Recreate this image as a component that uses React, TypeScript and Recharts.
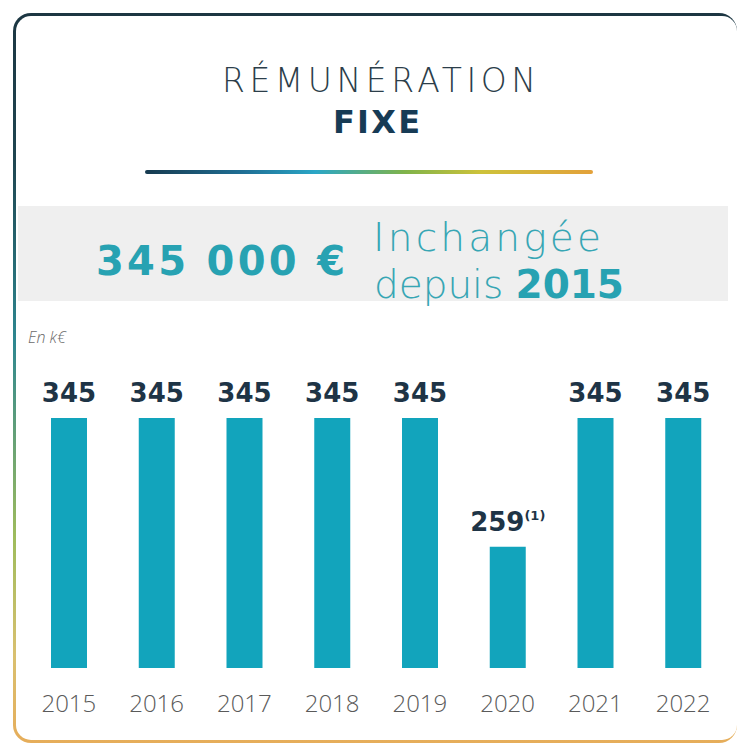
import { BarChart, Bar, XAxis, YAxis, LabelList } from 'recharts'

const years = ['2015', '2016', '2017', '2018', '2019', '2020', '2021', '2022']
const fixedPay = [345, 345, 345, 345, 345, 259, 345, 345]
const notes = ['', '', '', '', '', '(1)', '', '']

const data = years.map((year, i) => ({ year, value: fixedPay[i], note: notes[i] }))

const TEAL = '#12a4bc'
const NAVY = '#1e3446'
const FONT = '"Open Sans", Lato, sans-serif'
const WIDE = '"DejaVu Sans", "Open Sans", sans-serif'

const YearTick = ({ x, y, payload }: any) => (
  <text x={x} y={y + 44} textAnchor="middle" fontFamily={FONT} fontWeight={300} fontSize={24} fill="#5a5a5a">
    {payload.value}
  </text>
)

const ValueLabel = (props: any) => {
  const { x, y, width, value, index } = props
  const note = notes[index]
  return (
    <text
      x={x + width / 2}
      y={y - 16}
      textAnchor="middle"
      fontFamily={WIDE}
      fontWeight={700}
      fontSize={26}
      fill={NAVY}
    >
      {value}
      {note ? (
        <tspan fontSize={13} dy={-11}>
          {note}
        </tspan>
      ) : null}
    </text>
  )
}

export default function App() {
  return (
    <div style={{ position: 'absolute', left: 0, top: 0, width: 739, height: 747, background: '#fff' }}>
      {/* frame with gradient border */}
      <div
        style={{
          position: 'absolute',
          left: 13,
          top: 13,
          width: 724,
          height: 730,
          boxSizing: 'border-box',
          padding: '3px 0px 3px 3px',
          borderRadius: 18,
          background:
            'linear-gradient(to bottom, #1c3642 0%, #1f4550 20%, #2e8790 45%, #9fbc5c 72%, #d9c070 88%, #e6ad5a 100%)',
        }}
      >
        <div style={{ width: '100%', height: '100%', background: '#fff', borderRadius: 15 }} />
      </div>

      {/* grey band */}
      <div style={{ position: 'absolute', left: 18, top: 206, width: 710, height: 95, background: '#efefef' }} />

      {/* gradient rule */}
      <div
        style={{
          position: 'absolute',
          left: 145,
          top: 170,
          width: 448,
          height: 4,
          borderRadius: 2,
          background:
            'linear-gradient(to right, #173a4f 0%, #1f6f95 22%, #2aa6c6 38%, #7fb34a 58%, #cdc23a 75%, #e3a13a 100%)',
        }}
      />

      <svg width={739} height={747} style={{ position: 'absolute', left: 0, top: 0 }}>
        <text x={222} y={92} textLength={314} lengthAdjust="spacing" fontFamily={WIDE} fontWeight={200} fontSize={33} fill="#2c3e4a">
          RÉMUNÉRATION
        </text>
        <text x={333} y={133} textLength={87} lengthAdjust="spacing" fontFamily={WIDE} fontWeight={700} fontSize={32} fill="#173b55">
          FIXE
        </text>
        <text x={96} y={275} textLength={249} lengthAdjust="spacing" fontFamily={WIDE} fontWeight={700} fontSize={40} fill="#27a2b2">
          345 000 €
        </text>
        <text x={373} y={251} textLength={228} lengthAdjust="spacing" fontFamily={WIDE} fontWeight={200} fontSize={39} fill="#37a6b4">
          Inchangée
        </text>
        <text x={374} y={298} textLength={250} lengthAdjust="spacing" fontFamily={WIDE} fontWeight={200} fontSize={39} fill="#37a6b4">
          depuis <tspan fontWeight={700} fill="#27a2b2">2015</tspan>
        </text>
        <text x={28} y={343} fontFamily={FONT} fontStyle="italic" fontWeight={300} fontSize={16} fill="#6b6b6b">
          En k€
        </text>
      </svg>

      <div style={{ position: 'absolute', left: 0, top: 340 }}>
        <BarChart width={739} height={400} data={data} margin={{ top: 78, right: 12, bottom: 32, left: 25 }}>
          <XAxis
            dataKey="year"
            axisLine={false}
            tickLine={false}
            tickSize={0}
            tickMargin={0}
            height={40}
            interval={0}
            tick={<YearTick />}
          />
          <YAxis hide domain={[178, 345]} />
          <Bar dataKey="value" fill={TEAL} barSize={36} isAnimationActive={false}>
            <LabelList dataKey="value" content={<ValueLabel />} />
          </Bar>
        </BarChart>
      </div>
    </div>
  )
}
